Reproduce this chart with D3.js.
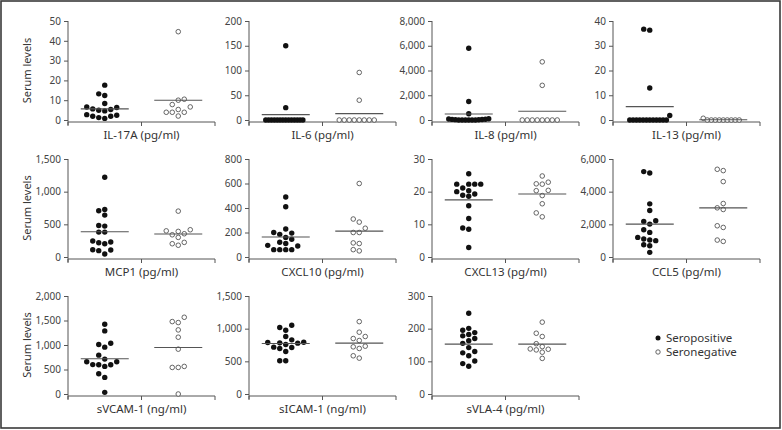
<!DOCTYPE html>
<html><head><meta charset="utf-8">
<script src="https://cdn.jsdelivr.net/npm/d3@7"></script>
<style>body{margin:0;background:#fff}svg{display:block}</style>
</head><body><svg id="c" width="782" height="430"></svg>
<script>
// ---------- DATA ----------
const panelNames = ["IL-17A (pg/ml)","IL-6 (pg/ml)","IL-8 (pg/ml)","IL-13 (pg/ml)",
  "MCP1 (pg/ml)","CXCL10 (pg/ml)","CXCL13 (pg/ml)","CCL5 (pg/ml)",
  "sVCAM-1 (ng/ml)","sICAM-1 (ng/ml)","sVLA-4 (pg/ml)"];
const panelMax  = [50,200,8000,40, 1500,800,30,6000, 2000,1500,300];
const panelStep = [10,50,2000,10, 500,200,10,2000, 500,500,100];
const groups = ["Seropositive","Seronegative"];

const posIL17A = [17.6,13.2,12.4,8.3,6.6,5.6,4.6,4.9,5.3,6.3,2.4,1.9,2.7,1.9,0.8,1.2];
const negIL17A = [44.6,10.5,10.0,7.8,6.6,5.3,3.9,3.9,3.9,2.0];
const posIL6   = [150,25,0,0,0,0,0,0,0,0,0,0,0,0,0,0];
const negIL6   = [96,40,0,0,0,0,0,0,0,0];
const posIL8   = [5800,1500,500,100,60,0,30,0,0,20,0,0,50,0,80,40];
const negIL8   = [4700,2800,0,0,0,0,0,0,0,0];
const posIL13  = [36.7,36.3,12.9,1.8,0,0,0,0,0,0,0,0,0,0,0,0];
const negIL13  = [0,0,0,0,0,0,0.7,0,0,0];
const posMCP1  = [1220,727,707,641,473,483,381,381,244,219,203,229,97,107,112,46];
const negMCP1  = [702,417,392,400,356,340,300,203,224,180];
const posCXCL10 = [490,410,228,195,200,185,160,145,120,110,95,90,60,60,60,60];
const negCXCL10 = [600,310,285,235,200,200,115,110,60,50];
const posCXCL13 = [25.5,22.3,22.3,22.3,22.3,21.1,20.3,20.0,19.3,18.9,18.6,15.7,11.8,8.9,8.5,2.9];
const negCXCL13 = [24.8,22.4,22.3,22.9,20.4,20.3,18.8,16.3,12.3,13.5];
const posCCL5  = [5228,5146,3254,2848,2217,2176,2014,1668,1505,1200,1098,1037,1000,753,692,285];
const negCCL5  = [5289,5370,4617,3275,2909,3010,1912,1810,956,1037];
const posSVCAM = [1424,1288,1010,1037,956,793,712,658,658,597,597,563,600,414,339,34];
const negSVCAM = [1566,1478,1458,1308,1159,915,542,542,563,0];
const posSICAM = [1053,1017,976,880,829,788,783,793,778,758,712,697,717,651,508,508];
const negSICAM = [1108,946,880,849,819,722,697,732,549,585];
const posSVLA4 = [247,201,195,188,182,178,170,163,155,142,130,126,117,101,93,85];
const negSVLA4 = [220,186,176,154,145,137,135,138,128,109];

const meanPos = [5.6,10.8,490,5.4, 386,163,17.5,2014, 719,773,152.6];
const meanNeg = [10.0,12.9,707,0.1, 351,211,19.3,3010, 949,778,152.6];

const seroPos = [posIL17A,posIL6,posIL8,posIL13,posMCP1,posCXCL10,posCXCL13,posCCL5,posSVCAM,posSICAM,posSVLA4];
const seroNeg = [negIL17A,negIL6,negIL8,negIL13,negMCP1,negCXCL10,negCXCL13,negCCL5,negSVCAM,negSICAM,negSVLA4];

// ---------- LAYOUT ----------
const svg = d3.select("#c");
const colX = [68, 249, 432, 613];
const rowTop = [21, 159, 296];
const rowZero = [120, 257, 394];
const axisW = 147;
const FONT = "'Noto Sans', 'Open Sans', sans-serif";
const axisCol = "#555";

svg.append("rect").attr("x",1).attr("y",1).attr("width",779).attr("height",427)
  .attr("fill","none").attr("stroke","#3a3a3a").attr("stroke-width",1.6);

function swarm(vals, y, step, diam, limit){
  const idx = vals.map((v,i)=>i).sort((a,b)=>vals[a]-vals[b]);
  const placed = [];
  const off = new Array(vals.length);
  for (const i of idx){
    const py = y(vals[i]);
    for (let k=0;;k++){
      const cand = k===0 ? 0 : (k%2 ? -Math.ceil(k/2)*step : Math.ceil(k/2)*step);
      if (!placed.some(p => p.off===cand && Math.abs(p.y-py) < diam)) {
        off[i] = cand; placed.push({y:py, off:cand}); break;
      }
    }
  }
  const ys = vals.map(v=>y(v));
  return off.map((o,i)=>{
    let m = 0;
    ys.forEach((yy,j)=>{ if (Math.abs(yy-ys[i]) < diam) m = Math.max(m, Math.abs(off[j])); });
    return m > limit ? o*limit/m : o;
  });
}

panelNames.forEach((name, p) => {
  const r = Math.floor(p/4), c = p%4;
  const x0 = colX[c];
  const g = svg.append("g");
  const y = d3.scaleLinear().domain([0, panelMax[p]]).range([rowZero[r], rowTop[r]]);
  const x = d3.scaleBand().domain(groups).range([x0, x0+axisW]);
  const ticks = d3.range(0, panelMax[p]+1e-9, panelStep[p]);

  // y axis
  const ya = g.append("g").attr("transform",`translate(${x0},0)`)
    .call(d3.axisLeft(y).tickValues(ticks).tickFormat(d3.format(",")).tickSize(4).tickPadding(3));
  ya.select(".domain").attr("d", `M0,${rowTop[r]}V${rowZero[r]+5}`);
  ya.selectAll("path,line").attr("stroke",axisCol);
  ya.selectAll("text").attr("font-family",FONT).attr("font-size",10).attr("fill","#444");

  // x axis line with boundary ticks
  const xb = rowZero[r]+2;
  const bounds = [x0, x0+axisW/2, x0+axisW];
  g.append("line").attr("x1",x0).attr("x2",x0+axisW).attr("y1",xb).attr("y2",xb).attr("stroke",axisCol);
  g.selectAll(".bt").data(bounds).join("line")
    .attr("x1",d=>d).attr("x2",d=>d).attr("y1",xb).attr("y2",xb+4).attr("stroke",axisCol);

  // axis title
  g.append("text").attr("x",x0+axisW/2).attr("y",rowZero[r]+19)
    .attr("text-anchor","middle").attr("font-family",FONT).attr("font-size",11.5).attr("fill","#333")
    .text(name);

  // dots
  [seroPos[p], seroNeg[p]].forEach((vals, gi) => {
    const cx = x(groups[gi]) + x.bandwidth()/2;
    const offs = swarm(vals, y, 6, 5.5, 20);
    g.selectAll(null).data(vals).join("circle")
      .attr("cx",(d,i)=>cx+offs[i]).attr("cy",d=>y(d))
      .attr("r", gi===0 ? 2.7 : 2.3)
      .attr("fill", gi===0 ? "#111" : "#fff")
      .attr("stroke", gi===0 ? "none" : "#555").attr("stroke-width",0.9);
    const m = gi===0 ? meanPos[p] : meanNeg[p];
    g.append("line").attr("x1",cx-24).attr("x2",cx+24).attr("y1",y(m)).attr("y2",y(m))
      .attr("stroke","#555").attr("stroke-width",1.1);
  });

  if (c===0) {
    svg.append("text").attr("transform",`translate(31,${(rowTop[r]+rowZero[r])/2}) rotate(-90)`)
      .attr("text-anchor","middle").attr("font-family",FONT).attr("font-size",11).attr("fill","#333")
      .text("Serum levels");
  }
});

// legend
const leg = svg.append("g");
groups.forEach((gname, i) => {
  const ly = 338 + i*14;
  leg.append("circle").attr("cx",658).attr("cy",ly).attr("r", i===0?2.5:2.2)
    .attr("fill", i===0?"#111":"#fff").attr("stroke", i===0?"none":"#555").attr("stroke-width",0.9);
  leg.append("text").attr("x",666).attr("y",ly+4).attr("font-family",FONT).attr("font-size",11.5)
    .attr("fill","#333").text(gname);
});
</script></body></html>
